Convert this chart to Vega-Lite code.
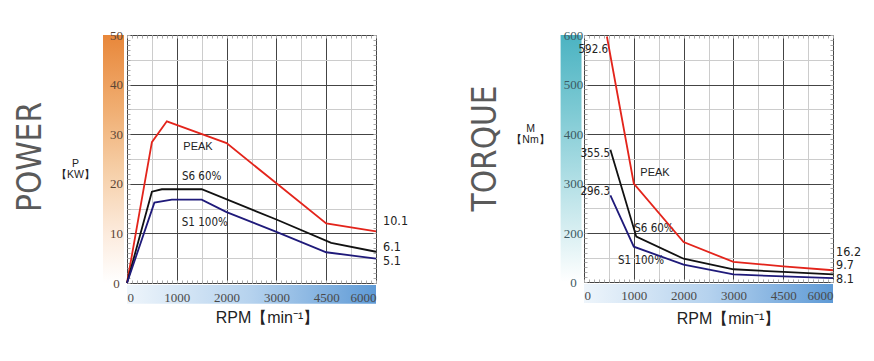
{
  "$schema": "https://vega.github.io/schema/vega-lite/v6.json",
  "background": "white",
  "autosize": {"type": "pad"},
  "padding": {"left": 14, "top": 28, "right": 10, "bottom": 10},
  "bounds": "flush",
  "spacing": 208,
  "config": {
    "view": {"stroke": "#444", "strokeWidth": 1},
    "text": {"color": "#222"}
  },
  "datasets": {
    "power": [
      {"curve": "PEAK", "rpm": 0, "kw": 0},
      {"curve": "PEAK", "rpm": 500, "kw": 28.4},
      {"curve": "PEAK", "rpm": 800, "kw": 32.6},
      {"curve": "PEAK", "rpm": 2000, "kw": 28.2},
      {"curve": "PEAK", "rpm": 3000, "kw": 20.1},
      {"curve": "PEAK", "rpm": 4500, "kw": 12.0},
      {"curve": "PEAK", "rpm": 6000, "kw": 10.4},
      {"curve": "S6 60%", "rpm": 0, "kw": 0},
      {"curve": "S6 60%", "rpm": 500, "kw": 18.4},
      {"curve": "S6 60%", "rpm": 700, "kw": 18.9},
      {"curve": "S6 60%", "rpm": 1500, "kw": 18.9},
      {"curve": "S6 60%", "rpm": 3000, "kw": 12.8},
      {"curve": "S6 60%", "rpm": 4650, "kw": 8.1},
      {"curve": "S6 60%", "rpm": 6000, "kw": 6.3},
      {"curve": "S1 100%", "rpm": 0, "kw": 0},
      {"curve": "S1 100%", "rpm": 550, "kw": 16.2},
      {"curve": "S1 100%", "rpm": 900, "kw": 16.8},
      {"curve": "S1 100%", "rpm": 1500, "kw": 16.8},
      {"curve": "S1 100%", "rpm": 2000, "kw": 14.3},
      {"curve": "S1 100%", "rpm": 3000, "kw": 10.3},
      {"curve": "S1 100%", "rpm": 4500, "kw": 6.2},
      {"curve": "S1 100%", "rpm": 6000, "kw": 4.9}
    ],
    "torque": [
      {"curve": "PEAK", "rpm": 460, "nm": 597},
      {"curve": "PEAK", "rpm": 1000, "nm": 300},
      {"curve": "PEAK", "rpm": 2000, "nm": 163},
      {"curve": "PEAK", "rpm": 3000, "nm": 82},
      {"curve": "PEAK", "rpm": 4500, "nm": 64},
      {"curve": "PEAK", "rpm": 6000, "nm": 48},
      {"curve": "S6 60%", "rpm": 530, "nm": 368},
      {"curve": "S6 60%", "rpm": 1050, "nm": 185},
      {"curve": "S6 60%", "rpm": 2000, "nm": 95},
      {"curve": "S6 60%", "rpm": 3000, "nm": 52},
      {"curve": "S6 60%", "rpm": 4500, "nm": 41},
      {"curve": "S6 60%", "rpm": 6000, "nm": 31},
      {"curve": "S1 100%", "rpm": 530, "nm": 276},
      {"curve": "S1 100%", "rpm": 1000, "nm": 144},
      {"curve": "S1 100%", "rpm": 2000, "nm": 71},
      {"curve": "S1 100%", "rpm": 3000, "nm": 31},
      {"curve": "S1 100%", "rpm": 4500, "nm": 23},
      {"curve": "S1 100%", "rpm": 6000, "nm": 16}
    ],
    "powerNotes": [
      {"label": "PEAK", "rpm": 1426, "kw": 27.4},
      {"label": "S6 60%", "rpm": 1498, "kw": 21.3},
      {"label": "S1 100%", "rpm": 1562, "kw": 12.0}
    ],
    "powerEnds": [
      {"label": "10.1", "rpm": 6000, "kw": 12.4},
      {"label": "6.1", "rpm": 6000, "kw": 7.3},
      {"label": "5.1", "rpm": 6000, "kw": 4.4}
    ],
    "torqueNotes": [
      {"label": "PEAK", "rpm": 1426, "nm": 322},
      {"label": "S6 60%", "rpm": 1405, "nm": 208},
      {"label": "S1 100%", "rpm": 1145, "nm": 84}
    ],
    "torqueStarts": [
      {"label": "592.6", "rpm": 485, "nm": 570},
      {"label": "355.5", "rpm": 522, "nm": 359},
      {"label": "296.3", "rpm": 522, "nm": 283}
    ],
    "torqueEnds": [
      {"label": "16.2", "rpm": 6000, "nm": 124},
      {"label": "9.7", "rpm": 6000, "nm": 68},
      {"label": "8.1", "rpm": 6000, "nm": 13}
    ]
  },
  "hconcat": [
    {
      "width": 249,
      "height": 248,
      "title": {"text": "POWER", "orient": "left", "anchor": "middle", "font": "Liberation Sans Narrow, DejaVu Sans Condensed, sans-serif", "fontSize": 33, "fontWeight": "normal", "color": "#5a5a5a", "offset": 8, "dx": 2},
      "resolve": {"axis": {"x": "independent", "y": "independent"}},
      "layer": [
        {
          "data": {"name": "powerNotes"},
          "transform": [{"filter": "datum.label === 'PEAK'"}],
          "mark": {"type": "text", "font": "Liberation Sans", "fontSize": 11, "align": "center", "baseline": "middle"},
          "encoding": {
            "x": {"field": "rpm", "type": "quantitative", "scale": {"domain": [0, 1000, 2000, 3000, 4500, 6000], "range": [0, 49.8, 99.6, 149.4, 199.2, 249], "nice": false, "zero": false},
              "axis": {"orient": "top", "values": [500, 1500, 2500, 3750, 5250], "grid": true, "gridColor": "#cccccc", "labels": false, "ticks": false, "domain": false, "title": null}},
            "y": {"field": "kw", "type": "quantitative", "scale": {"domain": [0, 50], "nice": false, "zero": false},
              "axis": {"orient": "right", "values": [5, 15, 25, 35, 45], "grid": true, "gridColor": "#cccccc", "labels": false, "ticks": false, "domain": false, "title": null}},
            "text": {"field": "label"}
          }
        },
        {
          "data": {"name": "powerNotes"},
          "transform": [{"filter": "datum.label !== 'PEAK'"}],
          "mark": {"type": "text", "font": "Liberation Sans Narrow, DejaVu Sans Condensed, sans-serif", "fontSize": 11.5, "align": "center", "baseline": "middle"},
          "encoding": {
            "x": {"field": "rpm", "type": "quantitative", "scale": {"domain": [0, 1000, 2000, 3000, 4500, 6000], "range": [0, 49.8, 99.6, 149.4, 199.2, 249], "nice": false, "zero": false},
              "axis": {"orient": "bottom", "values": [0,100,200,300,400,500,600,700,800,900,1000,1100,1200,1300,1400,1500,1600,1700,1800,1900,2000,2100,2200,2300,2400,2500,2600,2700,2800,2900,3000,3150,3300,3450,3600,3750,3900,4050,4200,4350,4500,4650,4800,4950,5100,5250,5400,5550,5700,5850,6000], "grid": false, "labels": false, "ticks": true, "tickSize": -3, "tickColor": "#aaaaaa", "domain": false, "title": null}},
            "y": {"field": "kw", "type": "quantitative", "scale": {"domain": [0, 50], "nice": false, "zero": false},
              "axis": {"orient": "left", "values": [0,1,2,3,4,5,6,7,8,9,10,11,12,13,14,15,16,17,18,19,20,21,22,23,24,25,26,27,28,29,30,31,32,33,34,35,36,37,38,39,40,41,42,43,44,45,46,47,48,49,50], "grid": false, "labels": false, "ticks": true, "tickSize": -3, "tickColor": "#aaaaaa", "domain": false, "title": null}},
            "text": {"field": "label"}
          }
        },
        {
          "data": {"name": "powerEnds"},
          "mark": {"type": "text", "font": "Liberation Sans Narrow, DejaVu Sans Condensed, sans-serif", "fontSize": 12.5, "align": "left", "baseline": "middle", "dx": 7},
          "encoding": {
            "x": {"field": "rpm", "type": "quantitative", "scale": {"domain": [0, 1000, 2000, 3000, 4500, 6000], "range": [0, 49.8, 99.6, 149.4, 199.2, 249], "nice": false, "zero": false},
              "axis": {"orient": "top", "values": [0,100,200,300,400,500,600,700,800,900,1000,1100,1200,1300,1400,1500,1600,1700,1800,1900,2000,2100,2200,2300,2400,2500,2600,2700,2800,2900,3000,3150,3300,3450,3600,3750,3900,4050,4200,4350,4500,4650,4800,4950,5100,5250,5400,5550,5700,5850,6000], "grid": false, "labels": false, "ticks": true, "tickSize": -3, "tickColor": "#aaaaaa", "domain": false, "title": null}},
            "y": {"field": "kw", "type": "quantitative", "scale": {"domain": [0, 50], "nice": false, "zero": false},
              "axis": {"orient": "right", "values": [0,1,2,3,4,5,6,7,8,9,10,11,12,13,14,15,16,17,18,19,20,21,22,23,24,25,26,27,28,29,30,31,32,33,34,35,36,37,38,39,40,41,42,43,44,45,46,47,48,49,50], "grid": false, "labels": false, "ticks": true, "tickSize": -3, "tickColor": "#aaaaaa", "domain": false, "title": null}},
            "text": {"field": "label"}
          }
        },
        {
          "data": {"values": [{}]},
          "mark": {"type": "rect", "color": {"gradient": "linear", "x1": 0, "y1": 0, "x2": 0, "y2": 1, "stops": [{"offset": 0, "color": "#E8873A"}, {"offset": 0.3, "color": "#F0AE72"}, {"offset": 0.55, "color": "#F6CFA8"}, {"offset": 0.8, "color": "#FCEBDD"}, {"offset": 1, "color": "#FFFFFF"}]}},
          "encoding": {
            "x": {"datum": -482, "type": "quantitative", "scale": {"domain": [0, 1000, 2000, 3000, 4500, 6000], "range": [0, 49.8, 99.6, 149.4, 199.2, 249], "nice": false, "zero": false},
              "axis": {"orient": "bottom", "values": [1000, 2000, 3000, 4500], "grid": true, "gridColor": "#444", "labels": false, "ticks": false, "domain": false, "title": null}},
            "x2": {"datum": -60},
            "y": {"datum": 0, "type": "quantitative", "scale": {"domain": [0, 50], "nice": false, "zero": false},
              "axis": {"orient": "left", "values": [10, 20, 30, 40], "grid": true, "gridColor": "#444", "labels": false, "ticks": false, "domain": false, "title": null}},
            "y2": {"datum": 50}
          }
        },
        {
          "data": {"values": [{}]},
          "mark": {"type": "rect", "color": {"gradient": "linear", "x1": 0, "y1": 0, "x2": 1, "y2": 0, "stops": [{"offset": 0, "color": "#EEF5FB"}, {"offset": 0.5, "color": "#B5D2EE"}, {"offset": 1, "color": "#5E9AD6"}]}},
          "encoding": {
            "x": {"datum": 0, "type": "quantitative", "scale": {"domain": [0, 1000, 2000, 3000, 4500, 6000], "range": [0, 49.8, 99.6, 149.4, 199.2, 249], "nice": false, "zero": false}, "axis": null},
            "x2": {"datum": 6000},
            "y": {"datum": -0.4, "type": "quantitative", "scale": {"domain": [0, 50], "nice": false, "zero": false}, "axis": null},
            "y2": {"datum": -4.2}
          }
        },
        {
          "data": {"name": "power"},
          "mark": {"type": "line", "strokeWidth": 1.8},
          "encoding": {
            "x": {"field": "rpm", "type": "quantitative",
              "scale": {"domain": [0, 1000, 2000, 3000, 4500, 6000], "range": [0, 49.8, 99.6, 149.4, 199.2, 249], "nice": false, "zero": false},
              "axis": {
                "orient": "bottom",
                "zindex": 1,
                "values": [0, 1000, 2000, 3000, 4500, 6000],
                "format": "d",
                "labelOverlap": false,
                "labelFont": "Liberation Serif, DejaVu Serif, serif",
                "labelFontSize": 13,
                "labelColor": "#4a4a4a",
                "labelPadding": 14,
                "labelBaseline": "middle",
                "ticks": false,
                "domain": false,
                "grid": false,
                "title": "RPM【min⁻¹】",
                "titleFont": "Liberation Sans",
                "titleFontSize": 16,
                "titleFontWeight": "normal",
                "titleColor": "#222",
                "titleX": 140,
                "titleY": 34,
                "titleAlign": "center",
                "titleBaseline": "middle"
              }
            },
            "y": {"field": "kw", "type": "quantitative",
              "scale": {"domain": [0, 50], "nice": false, "zero": false},
              "axis": {
                "orient": "left",
                "zindex": 1,
                "values": [0, 10, 20, 30, 40, 50],
                "labelOverlap": false,
                "labelFont": "Liberation Serif, DejaVu Serif, serif",
                "labelFontSize": 13,
                "labelColor": "#5b4636",
                "labelAlign": "center",
                "labelBaseline": "middle",
                "labelPadding": 11,
                "ticks": false,
                "domain": false,
                "grid": false,
                "title": ["P", "【KW】"],
                "titleAngle": 0,
                "titleX": -52,
                "titleY": 128,
                "titleAlign": "center",
                "titleBaseline": "middle",
                "titleFont": "Liberation Sans",
                "titleFontSize": 10.5,
                "titleLineHeight": 11,
                "titleFontWeight": "normal",
                "titleColor": "#222"
              }
            },
            "color": {"field": "curve", "type": "nominal", "scale": {"domain": ["PEAK", "S6 60%", "S1 100%"], "range": ["#E3241B", "#111111", "#1F1A7A"]}, "legend": null}
          }
        }
      ]
    },
    {
      "width": 249,
      "height": 247,
      "title": {"text": "TORQUE", "orient": "left", "anchor": "middle", "font": "Liberation Sans Narrow, DejaVu Sans Condensed, sans-serif", "fontSize": 33, "fontWeight": "normal", "color": "#5a5a5a", "offset": 8, "dx": 10},
      "resolve": {"axis": {"x": "independent", "y": "independent"}},
      "layer": [
        {
          "data": {"name": "torqueNotes"},
          "transform": [{"filter": "datum.label === 'PEAK'"}],
          "mark": {"type": "text", "font": "Liberation Sans", "fontSize": 11, "align": "center", "baseline": "middle"},
          "encoding": {
            "x": {"field": "rpm", "type": "quantitative", "scale": {"domain": [0, 1000, 2000, 3000, 4500, 6000], "range": [0, 49.8, 99.6, 149.4, 199.2, 249], "nice": false, "zero": false},
              "axis": {"orient": "top", "values": [500, 1500, 2500, 3750, 5250], "grid": true, "gridColor": "#cccccc", "labels": false, "ticks": false, "domain": false, "title": null}},
            "y": {"field": "nm", "type": "quantitative", "scale": {"domain": [0, 200, 600], "range": [247, 198, 0], "nice": false, "zero": false},
              "axis": {"orient": "right", "values": [100, 250, 350, 450, 550], "grid": true, "gridColor": "#cccccc", "labels": false, "ticks": false, "domain": false, "title": null}},
            "text": {"field": "label"}
          }
        },
        {
          "data": {"name": "torqueNotes"},
          "transform": [{"filter": "datum.label !== 'PEAK'"}],
          "mark": {"type": "text", "font": "Liberation Sans Narrow, DejaVu Sans Condensed, sans-serif", "fontSize": 11.5, "align": "center", "baseline": "middle"},
          "encoding": {
            "x": {"field": "rpm", "type": "quantitative", "scale": {"domain": [0, 1000, 2000, 3000, 4500, 6000], "range": [0, 49.8, 99.6, 149.4, 199.2, 249], "nice": false, "zero": false},
              "axis": {"orient": "bottom", "values": [0,100,200,300,400,500,600,700,800,900,1000,1100,1200,1300,1400,1500,1600,1700,1800,1900,2000,2100,2200,2300,2400,2500,2600,2700,2800,2900,3000,3150,3300,3450,3600,3750,3900,4050,4200,4350,4500,4650,4800,4950,5100,5250,5400,5550,5700,5850,6000], "grid": false, "labels": false, "ticks": true, "tickSize": -3, "tickColor": "#aaaaaa", "domain": false, "title": null}},
            "y": {"field": "nm", "type": "quantitative", "scale": {"domain": [0, 200, 600], "range": [247, 198, 0], "nice": false, "zero": false},
              "axis": {"orient": "left", "values": [0,20,40,60,80,100,120,140,160,180,200,210,220,230,240,250,260,270,280,290,300,310,320,330,340,350,360,370,380,390,400,410,420,430,440,450,460,470,480,490,500,510,520,530,540,550,560,570,580,590,600], "grid": false, "labels": false, "ticks": true, "tickSize": -3, "tickColor": "#aaaaaa", "domain": false, "title": null}},
            "text": {"field": "label"}
          }
        },
        {
          "data": {"name": "torqueEnds"},
          "mark": {"type": "text", "font": "Liberation Sans Narrow, DejaVu Sans Condensed, sans-serif", "fontSize": 12.5, "align": "left", "baseline": "middle", "dx": 3},
          "encoding": {
            "x": {"field": "rpm", "type": "quantitative", "scale": {"domain": [0, 1000, 2000, 3000, 4500, 6000], "range": [0, 49.8, 99.6, 149.4, 199.2, 249], "nice": false, "zero": false},
              "axis": {"orient": "top", "values": [0,100,200,300,400,500,600,700,800,900,1000,1100,1200,1300,1400,1500,1600,1700,1800,1900,2000,2100,2200,2300,2400,2500,2600,2700,2800,2900,3000,3150,3300,3450,3600,3750,3900,4050,4200,4350,4500,4650,4800,4950,5100,5250,5400,5550,5700,5850,6000], "grid": false, "labels": false, "ticks": true, "tickSize": -3, "tickColor": "#aaaaaa", "domain": false, "title": null}},
            "y": {"field": "nm", "type": "quantitative", "scale": {"domain": [0, 200, 600], "range": [247, 198, 0], "nice": false, "zero": false},
              "axis": {"orient": "right", "values": [0,20,40,60,80,100,120,140,160,180,200,210,220,230,240,250,260,270,280,290,300,310,320,330,340,350,360,370,380,390,400,410,420,430,440,450,460,470,480,490,500,510,520,530,540,550,560,570,580,590,600], "grid": false, "labels": false, "ticks": true, "tickSize": -3, "tickColor": "#aaaaaa", "domain": false, "title": null}},
            "text": {"field": "label"}
          }
        },
        {
          "data": {"values": [{}]},
          "mark": {"type": "rect", "color": {"gradient": "linear", "x1": 0, "y1": 0, "x2": 0, "y2": 1, "stops": [{"offset": 0, "color": "#4BB3C2"}, {"offset": 0.3, "color": "#7CC9D3"}, {"offset": 0.55, "color": "#AADCE3"}, {"offset": 0.8, "color": "#D9EFF2"}, {"offset": 1, "color": "#FFFFFF"}]}},
          "encoding": {
            "x": {"datum": -470, "type": "quantitative", "scale": {"domain": [0, 1000, 2000, 3000, 4500, 6000], "range": [0, 49.8, 99.6, 149.4, 199.2, 249], "nice": false, "zero": false},
              "axis": {"orient": "bottom", "values": [1000, 2000, 3000, 4500], "grid": true, "gridColor": "#444", "labels": false, "ticks": false, "domain": false, "title": null}},
            "x2": {"datum": -50},
            "y": {"datum": 0, "type": "quantitative", "scale": {"domain": [0, 200, 600], "range": [247, 198, 0], "nice": false, "zero": false},
              "axis": {"orient": "left", "values": [200, 300, 400, 500], "grid": true, "gridColor": "#444", "labels": false, "ticks": false, "domain": false, "title": null}},
            "y2": {"datum": 600}
          }
        },
        {
          "data": {"values": [{}]},
          "mark": {"type": "rect", "color": {"gradient": "linear", "x1": 0, "y1": 0, "x2": 1, "y2": 0, "stops": [{"offset": 0, "color": "#EEF5FB"}, {"offset": 0.5, "color": "#B5D2EE"}, {"offset": 1, "color": "#5E9AD6"}]}},
          "encoding": {
            "x": {"datum": 0, "type": "quantitative", "scale": {"domain": [0, 1000, 2000, 3000, 4500, 6000], "range": [0, 49.8, 99.6, 149.4, 199.2, 249], "nice": false, "zero": false}, "axis": null},
            "x2": {"datum": 6000},
            "y": {"datum": -8.2, "type": "quantitative", "scale": {"domain": [0, 200, 600], "range": [247, 198, 0], "nice": false, "zero": false}, "axis": null},
            "y2": {"datum": -85.7}
          }
        },
        {
          "data": {"name": "torqueStarts"},
          "mark": {"type": "text", "font": "Liberation Sans Narrow, DejaVu Sans Condensed, sans-serif", "fontSize": 11.5, "align": "right", "baseline": "middle"},
          "encoding": {
            "x": {"field": "rpm", "type": "quantitative", "scale": {"domain": [0, 1000, 2000, 3000, 4500, 6000], "range": [0, 49.8, 99.6, 149.4, 199.2, 249], "nice": false, "zero": false}, "axis": null},
            "y": {"field": "nm", "type": "quantitative", "scale": {"domain": [0, 200, 600], "range": [247, 198, 0], "nice": false, "zero": false}, "axis": null},
            "text": {"field": "label"}
          }
        },
        {
          "data": {"name": "torque"},
          "mark": {"type": "line", "strokeWidth": 1.8},
          "encoding": {
            "x": {"field": "rpm", "type": "quantitative",
              "scale": {"domain": [0, 1000, 2000, 3000, 4500, 6000], "range": [0, 49.8, 99.6, 149.4, 199.2, 249], "nice": false, "zero": false},
              "axis": {
                "orient": "bottom",
                "zindex": 1,
                "values": [0, 1000, 2000, 3000, 4500, 6000],
                "format": "d",
                "labelOverlap": false,
                "labelFont": "Liberation Serif, DejaVu Serif, serif",
                "labelFontSize": 13,
                "labelColor": "#4a4a4a",
                "labelPadding": 13,
                "labelBaseline": "middle",
                "ticks": false,
                "domain": false,
                "grid": false,
                "title": "RPM【min⁻¹】",
                "titleFont": "Liberation Sans",
                "titleFontSize": 16,
                "titleFontWeight": "normal",
                "titleColor": "#222",
                "titleX": 144,
                "titleY": 36,
                "titleAlign": "center",
                "titleBaseline": "middle"
              }
            },
            "y": {"field": "nm", "type": "quantitative",
              "scale": {"domain": [0, 200, 600], "range": [247, 198, 0], "nice": false, "zero": false},
              "axis": {
                "orient": "left",
                "zindex": 1,
                "values": [0, 200, 300, 400, 500, 600],
                "labelOverlap": false,
                "labelFont": "Liberation Serif, DejaVu Serif, serif",
                "labelFontSize": 13,
                "labelColor": "#3d5a63",
                "labelAlign": "center",
                "labelBaseline": "middle",
                "labelPadding": 11,
                "ticks": false,
                "domain": false,
                "grid": false,
                "title": ["M", "【Nm】"],
                "titleAngle": 0,
                "titleX": -54,
                "titleY": 93,
                "titleAlign": "center",
                "titleBaseline": "middle",
                "titleFont": "Liberation Sans",
                "titleFontSize": 10.5,
                "titleLineHeight": 11,
                "titleFontWeight": "normal",
                "titleColor": "#222"
              }
            },
            "color": {"field": "curve", "type": "nominal", "scale": {"domain": ["PEAK", "S6 60%", "S1 100%"], "range": ["#E3241B", "#111111", "#1F1A7A"]}, "legend": null}
          }
        }
      ]
    }
  ]
}
